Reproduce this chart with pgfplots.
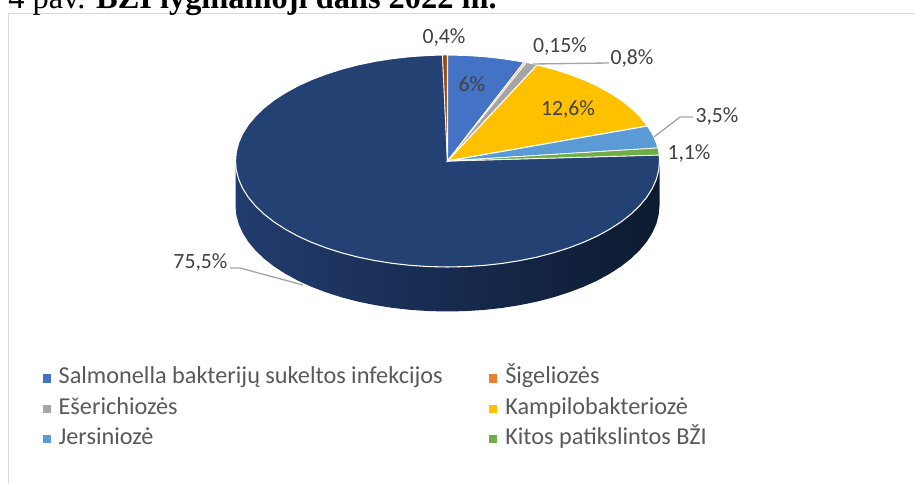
\documentclass[border=0pt]{standalone}
\usepackage{pgfplots}
\pgfplotsset{compat=1.18}
\usepackage{fontspec}
\setmainfont{Carlito}
\newfontfamily\titlefont{Liberation Serif}
\definecolor{lab}{HTML}{404040}
\definecolor{leg}{HTML}{595959}
\definecolor{cA}{HTML}{4472C4}
\definecolor{cB}{HTML}{ED7D31}
\definecolor{cC}{HTML}{A5A5A5}
\definecolor{cD}{HTML}{FFC000}
\definecolor{cE}{HTML}{5B9BD5}
\definecolor{cF}{HTML}{70AD47}
\definecolor{cG}{HTML}{244174}
\definecolor{cH}{HTML}{9E480E}
\definecolor{fr}{HTML}{D9D9D9}
\begin{document}
\begin{tikzpicture}
\path[use as bounding box] (0,0) rectangle (686.25pt,363pt);
\clip (0,0) rectangle (686.25pt,363pt);
\begin{axis}[
  at={(0,0)},anchor=south west,
  scale only axis,width=686.25pt,height=363pt,
  xmin=0,xmax=915,ymin=0,ymax=484,y dir=reverse,
  hide axis,clip=false,
  legend style={at={(axis cs:38.5,361)},anchor=north west,draw=none,fill=none,
    font=\fontsize{18.2pt}{21pt}\selectfont,text=leg,
    legend columns=2,row sep=1.25pt,
    /tikz/every odd column/.append style={column sep=4.5pt},
    /tikz/every even column/.append style={column sep=33pt,nodes={text height=13pt,text depth=4.5pt}}},
  legend cell align=left,
]
% chart frame
\addplot[fr,line width=0.9pt,forget plot] coordinates {(8.5,484) (8.5,13.5) (915,13.5)};
% side wall
\addplot[draw=none,shade,forget plot,
  left color={rgb,255:red,34;green,60;blue,110},middle color={rgb,255:red,22;green,40;blue,74},right color={rgb,255:red,13;green,26;blue,48}]
 coordinates {(659.5,161) (659.5,205.5) (658.7,214.7) (656.3,223.9) (652.3,232.9) (646.7,241.8) (639.6,250.3) (631.1,258.5) (621.2,266.3) (609.9,273.6) (597.4,280.5) (583.8,286.7) (569.1,292.3) (553.5,297.3) (537.1,301.6) (520.0,305.1) (502.4,307.9) (484.3,309.9) (466.0,311.1) (447.5,311.5) (429.0,311.1) (410.7,309.9) (392.6,307.9) (375.0,305.1) (357.9,301.6) (341.5,297.3) (325.9,292.3) (311.2,286.7) (297.6,280.5) (285.1,273.6) (273.8,266.3) (263.9,258.5) (255.4,250.3) (248.3,241.8) (242.7,232.9) (238.7,223.9) (236.3,214.7) (235.5,205.5) (235.5,161)} --cycle;
% Salmonella 75,5
\addplot[fill=cG,draw=white,line width=0.8pt,forget plot]
 coordinates {(447.5,161) (659.2,155) (659.5,161) (658.7,170.2) (656.3,179.4) (652.3,188.4) (646.7,197.3) (639.6,205.8) (631.1,214.0) (621.2,221.8) (609.9,229.1) (597.4,236.0) (583.8,242.2) (569.1,247.8) (553.5,252.8) (537.1,257.1) (520.0,260.6) (502.4,263.4) (484.3,265.4) (466.0,266.6) (447.5,267) (429.0,266.6) (410.7,265.4) (392.6,263.4) (375.0,260.6) (357.9,257.1) (341.5,252.8) (325.9,247.8) (311.2,242.2) (297.6,236.0) (285.1,229.1) (273.8,221.8) (263.9,214.0) (255.4,205.8) (248.3,197.3) (242.7,188.4) (238.7,179.4) (236.3,170.2) (235.5,161) (236.3,151.8) (238.7,142.6) (242.7,133.6) (248.3,124.7) (255.4,116.2) (263.9,108.0) (273.8,100.2) (285.1,92.9) (297.6,86.0) (311.2,79.8) (325.9,74.2) (341.5,69.2) (357.9,64.9) (375.0,61.4) (392.6,58.6) (410.7,56.6) (429.0,55.4) (442.5,55)} --cycle;
% Sigelioze 0,4
\addplot[fill=cH,draw=white,line width=0.5pt,forget plot]
 coordinates {(447.5,161) (442.5,55) (447.5,55)} --cycle;
% 6
\addplot[fill=cA,draw=white,line width=0.8pt,forget plot]
 coordinates {(447.5,161) (447.5,55) (466,55.4) (484.3,56.6) (502.4,58.6) (520,61.4) (524,62.1)} --cycle;
% 0,15
\addplot[fill=cB!40,draw=white,line width=0.4pt,forget plot]
 coordinates {(447.5,161) (524,62.1) (526.5,62.6)} --cycle;
% 0,8
\addplot[fill=cC,draw=white,line width=0.4pt,forget plot]
 coordinates {(447.5,161) (526.5,62.6) (537.1,64.9)} --cycle;
% 12,6
\addplot[fill=cD,draw=white,line width=0.8pt,forget plot]
 coordinates {(447.5,161) (537.1,64.9) (553.5,69.2) (569.1,74.2) (583.8,79.8) (597.4,86.0) (609.9,92.9) (621.2,100.2) (631.1,108.0) (639.6,116.2) (647.5,126)} --cycle;
% 3,5
\addplot[fill=cE,draw=white,line width=0.8pt,forget plot]
 coordinates {(447.5,161) (647.5,126) (652.3,133.6) (656.3,142.6) (657.9,148)} --cycle;
% 1,1
\addplot[fill=cF,draw=white,line width=0.5pt,forget plot]
 coordinates {(447.5,161) (657.9,148) (658.7,151.8) (659.2,155)} --cycle;
% leader lines
\addplot[color=cC,line width=1pt,forget plot] coordinates {(230,268) (240,268) (303,285)};
\addplot[color=cC,line width=1pt,forget plot] coordinates {(533,64) (609,63)};
\addplot[color=cC,line width=1pt,forget plot] coordinates {(654,137) (680,117) (693,117)};
% legend
\addlegendimage{only marks,mark=square*,mark size=2.7pt,color=cA}\addlegendentry{Salmonella bakterijų sukeltos infekcijos}
\addlegendimage{only marks,mark=square*,mark size=2.7pt,color=cB}\addlegendentry{Šigeliozės}
\addlegendimage{only marks,mark=square*,mark size=2.7pt,color=cC}\addlegendentry{Ešerichiozės}
\addlegendimage{only marks,mark=square*,mark size=2.7pt,color=cD}\addlegendentry{Kampilobakteriozė}
\addlegendimage{only marks,mark=square*,mark size=2.7pt,color=cE}\addlegendentry{Jersiniozė}
\addlegendimage{only marks,mark=square*,mark size=2.7pt,color=cF}\addlegendentry{Kitos patikslintos BŽI}
% labels
\begin{scope}[every node/.style={font=\fontsize{16.3pt}{19pt}\selectfont,text=lab,inner sep=0pt}]
\node at (axis cs:200.5,262) {75,5\%};
\node at (axis cs:444,37) {0,4\%};
\node at (axis cs:472,84) {6\%};
\node at (axis cs:560,46) {0,15\%};
\node at (axis cs:632,58) {0,8\%};
\node at (axis cs:568,109) {12,6\%};
\node at (axis cs:717,116) {3,5\%};
\node at (axis cs:689,153) {1,1\%};
\end{scope}
\node[anchor=base west,inner sep=0pt,font=\fontsize{24.3pt}{28pt}\selectfont\titlefont,text=black] at (axis cs:8,9) {4 pav. \textbf{BŽI lyginamoji dalis 2022 m.}};
\end{axis}
\end{tikzpicture}
\end{document}
